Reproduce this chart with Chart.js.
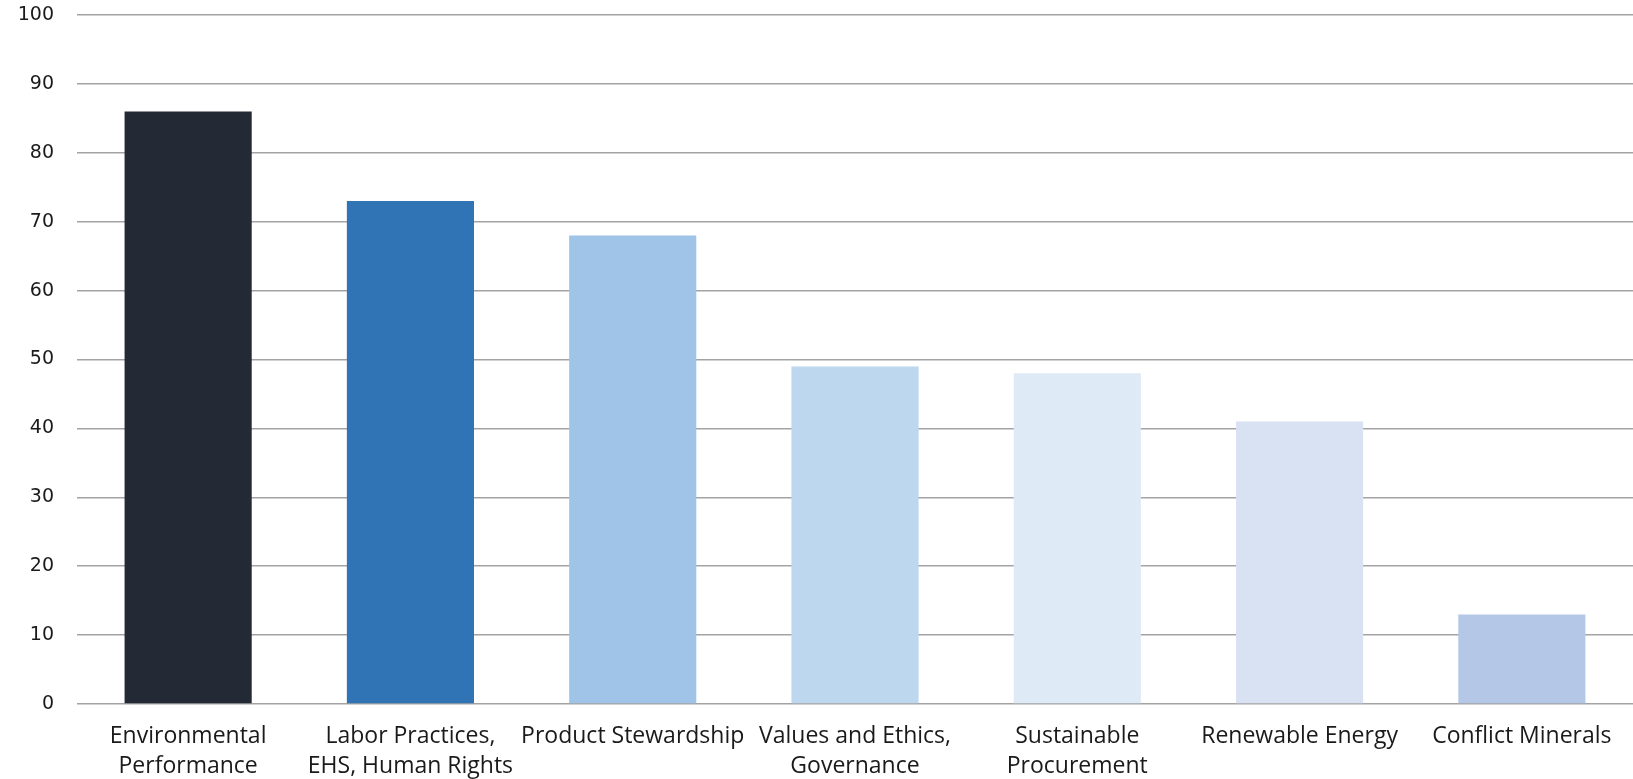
<!DOCTYPE html>
<html>
<head>
<meta charset="utf-8">
<script src="https://cdn.jsdelivr.net/npm/chart.js@4"></script>
<style>
  html, body { margin: 0; padding: 0; background: #fff; }
  #wrap { width: 1633px; height: 779px; }
</style>
</head>
<body>
<div id="wrap"><canvas id="topicsChart"></canvas></div>
<script>
  // Share of companies covering each topic (%)
  const categories = [
    ['Environmental', 'Performance'],
    ['Labor Practices,', 'EHS, Human Rights'],
    'Product Stewardship',
    ['Values and Ethics,', 'Governance'],
    ['Sustainable', 'Procurement'],
    'Renewable Energy',
    'Conflict Minerals'
  ];
  const values = [86, 73, 68, 49, 48, 41, 13];
  const barColors = ['#232a35', '#3074b5', '#9fc4e7', '#bdd7ee', '#deeaf6', '#d9e2f3', '#b4c7e7'];
  const yTicks = [0, 10, 20, 30, 40, 50, 60, 70, 80, 90, 100];

  const ctx = document.getElementById('topicsChart').getContext('2d');
  new Chart(ctx, {
    type: 'bar',
    data: {
      labels: categories,
      datasets: [{
        data: values,
        backgroundColor: barColors,
        barPercentage: 0.572,
        categoryPercentage: 1.0
      }]
    },
    options: {
      responsive: true,
      maintainAspectRatio: false,
      animation: false,
      layout: { padding: { top: 15, right: 0, left: 0, bottom: 0 } },
      plugins: {
        legend: { display: false },
        tooltip: { enabled: false }
      },
      scales: {
        x: {
          grid: { display: false, drawTicks: false },
          border: { display: false },
          ticks: {
            color: '#1a1a1a',
            padding: 17,
            maxRotation: 0,
            autoSkip: false,
            font: { family: 'Open Sans', size: 23, lineHeight: 1.33 }
          },
          afterFit: (scale) => { scale.height = 75; }
        },
        y: {
          min: 0,
          max: 100,
          afterBuildTicks: (scale) => { scale.ticks = yTicks.map(v => ({ value: v })); },
          grid: { color: '#a3a3a3', lineWidth: 1.5, drawTicks: false },
          border: { display: false },
          ticks: {
            color: '#1a1a1a',
            padding: 23,
            font: { family: 'DejaVu Sans', size: 19 }
          },
          // keep the tick padding from pushing the plot area down
          afterFit: (scale) => {
            scale.width = 77;
            scale.paddingTop = 0;
            scale.paddingBottom = 0;
          }
        }
      }
    }
  });
</script>
</body>
</html>
